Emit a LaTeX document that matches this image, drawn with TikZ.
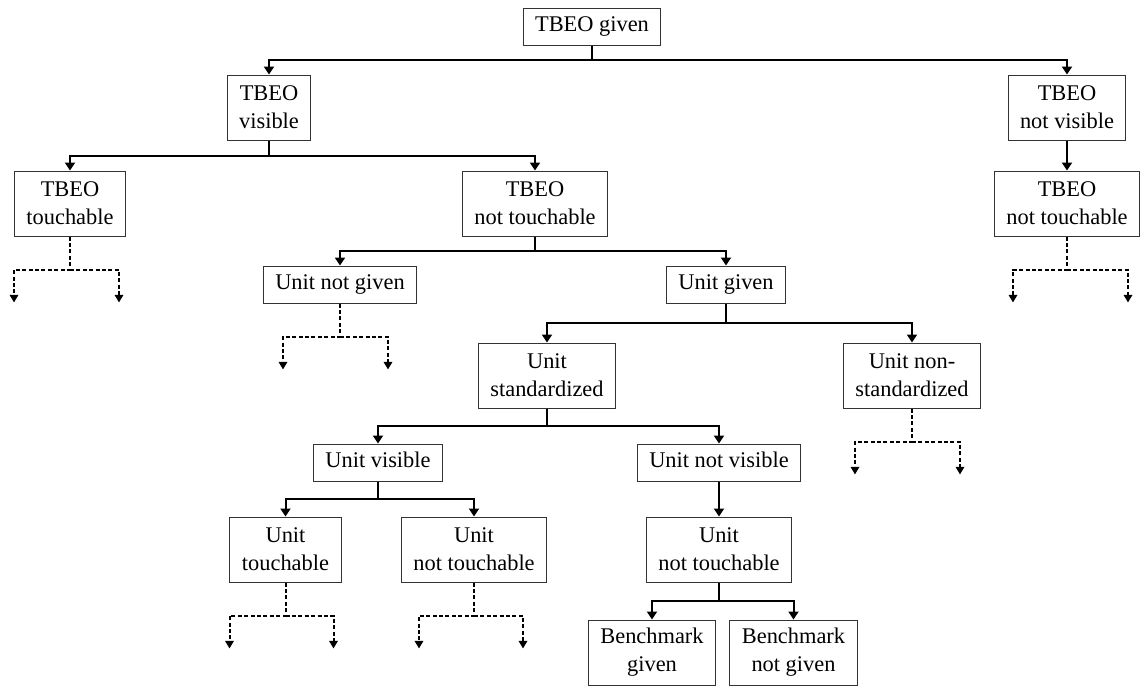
\documentclass[tikz,border=0pt]{standalone}
\usepackage{fontspec}
\setmainfont{Liberation Serif}
\usetikzlibrary{arrows.meta,calc}
\tikzset{
  cell/.style={draw=black!80, line width=0.5pt, inner xsep=6pt, inner ysep=0pt, align=center, font=\fontsize{11.2}{14}\selectfont},
  cellone/.style={cell, minimum height=18.5pt, text height=7.8pt, text depth=2.5pt},
  celltwo/.style={cell, minimum height=32.5pt},
  link/.style={line width=1pt, -{Triangle[length=4pt,width=5pt]}},
  fork/.style={link, to path={|- ($(\tikztostart)!0.5!(\tikztotarget)$) -| (\tikztotarget)}},
  stub/.style={line width=1pt, dash pattern=on 2pt off 1.2pt, -{Triangle[length=3.8pt,width=4.2pt]}}
}
\newcommand{\leafstub}[3]{%
\coordinate (#1-l) at ($(#1.south)+(#2,66)$);
\coordinate (#1-r) at ($(#1.south)+(#3,66)$);
\draw[stub] (#1.south) -- ++(0,33) coordinate (#1-m) -| (#1-l);
\draw[stub] (#1-m) -| (#1-r);}

\begin{document}
\begin{tikzpicture}[x=0.5pt,y=-0.5pt]
\useasboundingbox (0,0) rectangle (1140,686);
\node[cellone] (given) at (592,26.5) {TBEO given};
\node[celltwo] (tvis) at (269,107.5) {TBEO\\visible};
\node[celltwo] (tnotvis) at (1067,107.5) {TBEO\\not visible};
\node[celltwo] (ttouch) at (70,203.5) {TBEO\\touchable};
\node[celltwo] (tnottouch) at (535,203.5) {TBEO\\not touchable};
\node[celltwo] (tnottouchb) at (1067,203.5) {TBEO\\not touchable};
\node[cellone] (ungiven) at (340,284.5) {Unit not given};
\node[cellone] (ugiven) at (726,284.5) {Unit given};
\node[celltwo] (ustd) at (547,375.5) {Unit\\standardized};
\node[celltwo] (unonstd) at (912,375.5) {Unit non-\\standardized};
\node[cellone] (uvis) at (378,462.5) {Unit visible};
\node[cellone] (unotvis) at (719,462.5) {Unit not visible};
\node[celltwo] (utouch) at (285.5,549.5) {Unit\\touchable};
\node[celltwo] (unottouch) at (474,549.5) {Unit\\not touchable};
\node[celltwo] (unottouchb) at (719,549.5) {Unit\\not touchable};
\node[celltwo] (bgiven) at (652,652.5) {Benchmark\\given};
\node[celltwo] (bnotgiven) at (793.5,652.5) {Benchmark\\not given};

\draw[fork] (given.south) to (tvis.north);
\draw[fork] (given.south) to (tnotvis.north);
\draw[link] (tnotvis.south) -- (tnottouchb.north);
\draw[fork] (tvis.south) to (ttouch.north);
\draw[fork] (tvis.south) to (tnottouch.north);
\draw[fork] (tnottouch.south) to (ungiven.north);
\draw[fork] (tnottouch.south) to (ugiven.north);
\draw[fork] (ugiven.south) to (ustd.north);
\draw[fork] (ugiven.south) to (unonstd.north);
\draw[fork] (ustd.south) to (uvis.north);
\draw[fork] (ustd.south) to (unotvis.north);
\draw[link] (unotvis.south) -- (unottouchb.north);
\draw[fork] (uvis.south) to (utouch.north);
\draw[fork] (uvis.south) to (unottouch.north);
\draw[fork] (unottouchb.south) to (bgiven.north);
\draw[fork] (unottouchb.south) to (bnotgiven.north);

\leafstub{ttouch}{-56}{49}
\leafstub{tnottouchb}{-54}{61}
\leafstub{ungiven}{-57}{48}
\leafstub{unonstd}{-57}{48}
\leafstub{utouch}{-56}{48}
\leafstub{unottouch}{-55}{49}
\end{tikzpicture}
\end{document}
